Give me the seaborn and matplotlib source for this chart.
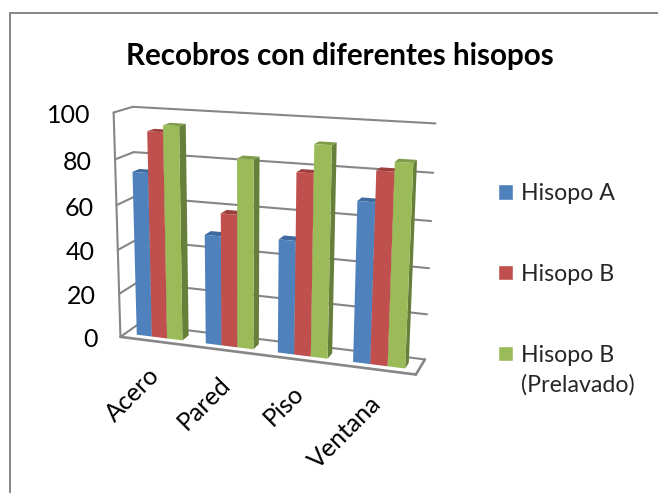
import numpy as np
import pandas as pd
import matplotlib
matplotlib.use("Agg")
import matplotlib.pyplot as plt
from matplotlib.patches import Polygon, Rectangle
from matplotlib.transforms import Transform, IdentityTransform
import seaborn as sns

# Recovery percentages per surface and swab
surfaces = ["Acero", "Pared", "Piso", "Ventana"]
hisopo_a = [74, 49, 50, 69]
hisopo_b = [92, 59, 79, 82]
hisopo_b_prelavado = [95, 83, 91, 86]
series_names = ["Hisopo A", "Hisopo B", "Hisopo B\n(Prelavado)"]
y_ticks = [0, 20, 40, 60, 80, 100]
title = "Recobros con diferentes hisopos"

FACE = ["#4F81BD", "#C0504D", "#9BBB59"]
SIDE = ["#3A6191", "#943B39", "#667F3A"]
TOP = ["#3F6A9E", "#9C403E", "#7F9C48"]
GRID = "#868686"
W, H = 658, 493
FONT = "Lato"

sns.set_theme(style="white")
plt.rcParams["font.family"] = [FONT, "DejaVu Sans"]

# Camera of the 3D box: (category position, depth, value) -> canvas position
cal_world = np.array([
    (-.5, 0, 0), (-.5, 0, 100), (-.5, 1, 100), (-.5, 1, 0), (3.5, 1, 100),
    (3.5, 1, 0), (3.5, 0, 0), (-.5, 0, 80), (-.5, 1, 80), (3.5, 1, 80),
    (-.5, 1, 60), (-.5, 0, 60), (3.5, 1, 60), (3.5, 1, 40), (3.5, 1, 20),
], dtype=float)
cal_canvas = np.array([
    (121, 336.7), (112, 112.7), (134, 106.7), (137.7, 324.3), (435, 123),
    (425, 359), (415.7, 375), (116, 159), (134, 152), (433, 173),
    (134, 197), (116.7, 205), (431.7, 221.7), (429, 268), (427, 314),
], dtype=float)


def solve_camera(world, canvas):
    scaled = world * np.array([0.25, 1, 0.01])
    rows = []
    for (a, b, c), (u, v) in zip(scaled, canvas / 500):
        rows.append([a, b, c, 1, 0, 0, 0, 0, -u * a, -u * b, -u * c, -u])
        rows.append([0, 0, 0, 0, a, b, c, 1, -v * a, -v * b, -v * c, -v])
    return np.linalg.svd(np.array(rows))[2][-1].reshape(3, 4)


CAMERA = solve_camera(cal_world, cal_canvas)


def project(x, depth, value):
    x, value = np.asarray(x, float), np.asarray(value, float)
    pts = np.stack([x * .25, np.full_like(x, depth), value * .01, np.ones_like(x)])
    u, v, w = CAMERA @ pts
    return np.column_stack([u / w * 500, H - v / w * 500])


class DepthPlane(Transform):
    """Sends (category, value) data onto the plane at a given box depth."""
    input_dims = output_dims = 2
    has_inverse = False
    is_separable = False

    def __init__(self, plane_depth):
        super().__init__()
        self.plane_depth = plane_depth

    def transform_non_affine(self, values):
        values = np.asarray(values, float)
        return project(values[:, 0], self.plane_depth, values[:, 1])


BAR_FRONT, BAR_BACK = 0.28, 0.66
LEFT, RIGHT = -0.5, 3.5

long_data = pd.DataFrame({
    "superficie": surfaces * 3,
    "recobro": hisopo_a + hisopo_b + hisopo_b_prelavado,
    "hisopo": np.repeat(series_names, len(surfaces)),
})

fig = plt.figure(figsize=(W / 100, H / 100), dpi=100)
ax = fig.add_axes([0, 0, 1, 1])
sns.barplot(data=long_data, x="superficie", y="recobro", hue="hisopo",
            palette=FACE, width=2 / 3, gap=0, saturation=1, ax=ax, legend=True)
ax.set_xlim(-1, 4)
ax.set_ylim(0, 120)
ax.set_axis_off()

# Outer chart frame
fig.add_artist(Rectangle((9.5, -10), 800, 493 + 10 - 13, fill=False, ec=GRID, lw=1.4,
                         transform=IdentityTransform()))

# Gridlines across the back wall and along the left wall
back = DepthPlane(1.0)
for v in y_ticks:
    ax.plot([LEFT, RIGHT], [v, v], color=GRID, lw=1.5, transform=back, zorder=0.5,
            scalex=False, scaley=False, clip_on=False)
    side = np.vstack([project([LEFT], 0, [v]), project([LEFT], 1, [v])])
    ax.plot(side[:, 0], side[:, 1], color=GRID, lw=1.5, transform=IdentityTransform(),
            zorder=0.5, scalex=False, scaley=False, clip_on=False)

# Box edges: front of the left wall and the floor outline
front = DepthPlane(0.0)
ax.plot([LEFT, LEFT], [0, 100], color=GRID, lw=1.5, transform=front, zorder=0.5,
        scalex=False, scaley=False, clip_on=False)
ax.plot([LEFT, RIGHT], [0, 0], color=GRID, lw=1.9, transform=front, zorder=0.5,
        scalex=False, scaley=False, clip_on=False)
edge = np.vstack([project([RIGHT], 0, [0]), project([RIGHT], 1, [0])])
ax.plot(edge[:, 0], edge[:, 1], color=GRID, lw=1.9, transform=IdentityTransform(), zorder=0.5,
        scalex=False, scaley=False, clip_on=False)

# Turn each flat bar into a block: side and top faces come from the bar's geometry
bars = []
for i, container in enumerate(ax.containers):
    bars += [(bar, i) for bar in container]
bars.sort(key=lambda item: item[0].get_x())
near = DepthPlane(BAR_FRONT)
corner = lambda x, d, v: project([x], d, [v])[0]
for order, (bar, i) in enumerate(bars):
    x0, x1 = bar.get_x(), bar.get_x() + bar.get_width()
    top = bar.get_height()
    z = 1 + order
    side = [corner(x1, BAR_FRONT, 0), corner(x1, BAR_BACK, 0),
            corner(x1, BAR_BACK, top), corner(x1, BAR_FRONT, top)]
    cap = [corner(x0, BAR_FRONT, top), corner(x1, BAR_FRONT, top),
           corner(x1, BAR_BACK, top), corner(x0, BAR_BACK, top)]
    ax.add_patch(Polygon(side, fc=SIDE[i], ec="none", transform=IdentityTransform(), zorder=z, clip_on=False))
    ax.add_patch(Polygon(cap, fc=TOP[i], ec="none", transform=IdentityTransform(), zorder=z, clip_on=False))
    bar.set_transform(near)
    bar.set_edgecolor("none")
    bar.set_clip_on(False)
    bar.set_zorder(z + 0.5)

# Value axis labels follow the slanted front edge
for v in y_ticks:
    px, py = corner(LEFT, 0, v)
    ax.text(px - 23, py - 3, str(v), ha="right", va="center", fontsize=18, color="black",
            transform=IdentityTransform())

# Rotated category labels under the floor
for k, name in enumerate(surfaces):
    px, py = corner(k, 0, 0)
    ax.text(px - 7, py - 22, name, ha="right", va="top", rotation=45, rotation_mode="anchor",
            fontsize=18, color="black", transform=IdentityTransform())

fig.text(340 / W, 1 - 56 / H, title, ha="center", va="center", fontsize=21.3, fontweight="bold", color="black")

sns.move_legend(ax, "upper left", bbox_to_anchor=(498 / W, 1 - 183 / H), title=None, frameon=False,
                fontsize=16.7, handlelength=0.65, handleheight=0.65, handletextpad=0.35,
                labelspacing=2.58, borderpad=0, borderaxespad=0)
legend = ax.get_legend()
legend.set_zorder(50)
for label in legend.get_texts():
    label.set_linespacing(1.5)
# The swatch of the two-line entry sits beside its first line
last_handle = legend.legend_handles[2]
last_handle.set_y(last_handle.get_y() + 12.5)

fig.savefig("out.png", dpi=100)
